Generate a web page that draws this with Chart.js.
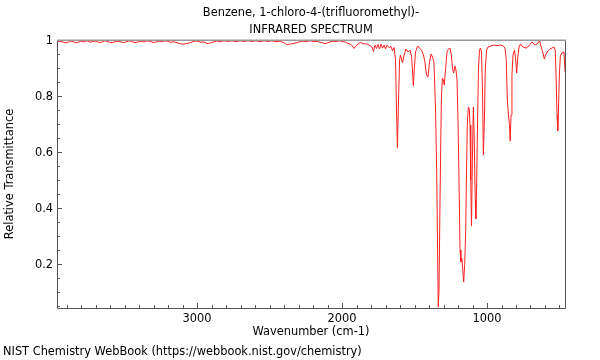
<!DOCTYPE html>
<html>
<head>
<meta charset="utf-8">
<script src="https://cdn.jsdelivr.net/npm/chart.js@4.4.0/dist/chart.umd.min.js"></script>
<style>
  html, body { margin: 0; padding: 0; background: #fff; }
  #wrap { position: relative; width: 600px; height: 360px; }
</style>
</head>
<body>
<div id="wrap"><canvas id="irChart" width="600" height="360"></canvas></div>
<script>
// spectrum, high wavenumber -> low
const wavenumbers = [
  3966, 3948, 3931, 3910, 3890, 3872, 3855, 3838, 3821, 3800, 3779, 3758, 3738, 3717, 3697, 3676,
  3655, 3634, 3614, 3593, 3572, 3552, 3531, 3510, 3490, 3469, 3448, 3428, 3407, 3386, 3366, 3345,
  3324, 3303, 3283, 3262, 3241, 3221, 3200, 3180, 3159, 3131, 3110, 3097, 3080, 3062, 3045, 3028,
  3010, 2993, 2972, 2952, 2938, 2924, 2907, 2890, 2865, 2841, 2814, 2786, 2758, 2731, 2703, 2676,
  2648, 2621, 2593, 2566, 2538, 2510, 2483, 2455, 2431, 2407, 2390, 2379, 2365, 2352, 2338, 2324,
  2310, 2297, 2272, 2248, 2220, 2193, 2172, 2152, 2134, 2117, 2100, 2083, 2062, 2041, 2017, 1993,
  1975, 1959, 1938, 1917, 1897, 1876, 1848, 1828, 1807, 1793, 1783, 1772, 1762, 1752, 1741, 1731,
  1721, 1710, 1700, 1690, 1676, 1662, 1652, 1641, 1631, 1624, 1618, 1612, 1603, 1597, 1583, 1572,
  1559, 1545, 1531, 1521, 1514, 1508, 1502, 1493, 1479, 1466, 1452, 1438, 1428, 1417, 1407, 1397,
  1386, 1376, 1366, 1355, 1347, 1340, 1336, 1331, 1324, 1315, 1308, 1301, 1295, 1286, 1276, 1266,
  1255, 1246, 1238, 1230, 1221, 1214, 1207, 1200, 1193, 1186, 1180, 1174, 1167, 1161, 1154, 1147,
  1141, 1136, 1129, 1122, 1117, 1112, 1107, 1101, 1094, 1088, 1081, 1077, 1072, 1065, 1059, 1052,
  1045, 1038, 1031, 1025, 1018, 1012, 1003, 993, 972, 952, 931, 910, 890, 876, 867, 860,
  852, 845, 840, 834, 828, 821, 810, 802, 795, 788, 779, 769, 752, 731, 710, 690,
  669, 648, 638, 628, 614, 605, 593, 579, 566, 552, 538, 529, 523, 517, 512, 507,
  501, 494, 483, 469, 462
];
const transmittance = [
  .993, .996, .994, .990, .992, .996, .994, .990, .992, .996, .993, .997, .992, .995, .996, .991,
  .993, .997, .994, .990, .993, .996, .994, .991, .993, .997, .994, .991, .993, .996, .993, .997,
  .995, .991, .993, .996, .994, .997, .995, .992, .994, .989, .986, .985, .987, .988, .991, .994,
  .996, .995, .992, .993, .989, .987, .990, .993, .996, .994, .997, .995, .997, .994, .997, .995,
  .997, .995, .997, .994, .997, .995, .997, .994, .995, .992, .987, .983, .985, .986, .987, .989,
  .991, .993, .996, .994, .997, .994, .995, .992, .990, .987, .990, .993, .996, .994, .997, .994,
  .992, .988, .984, .970, .982, .991, .986, .986, .980, .975, .959, .982, .970, .984, .968, .986,
  .971, .982, .968, .982, .973, .977, .961, .973, .929, .750, .614, .750, .929, .946, .918, .946,
  .968, .957, .964, .943, .893, .836, .893, .957, .979, .971, .964, .946, .921, .875, .868, .918,
  .950, .939, .921, .750, .536, .214, .046, .107, .429, .786, .864, .857, .839, .893, .957, .968,
  .971, .946, .900, .882, .907, .893, .861, .714, .500, .250, .207, .221, .179, .136, .196, .321,
  .536, .696, .761, .754, .696, .500, .336, .571, .761, .643, .429, .361, .464, .714, .893, .964,
  .971, .957, .821, .589, .714, .893, .964, .975, .979, .982, .980, .982, .980, .971, .929, .786,
  .732, .696, .639, .732, .875, .946, .964, .929, .882, .936, .975, .986, .975, .971, .979, .993,
  .982, .989, .998, .979, .954, .932, .950, .961, .968, .971, .975, .964, .857, .732, .675, .750,
  .875, .943, .954, .957, .886
];

const xLimits = [462, 3966];
const yLimits = [0.043, 1];
const xMajorTicks = [3000, 2000, 1000];
const yMajorTicks = [0.2, 0.4, 0.6, 0.8, 1];
const xMinorStep = 100;
const yMinorStep = 0.05;

const titleLines = ['Benzene, 1-chloro-4-(trifluoromethyl)-', 'INFRARED SPECTRUM'];
const xTitle = 'Wavenumber (cm-1)';
const yTitle = 'Relative Transmittance';
const creditText = 'NIST Chemistry WebBook (https://webbook.nist.gov/chemistry)';

const FONT = '11.4px "DejaVu Sans", sans-serif';

const points = wavenumbers.map((w, i) => ({ x: w, y: transmittance[i] }));

// frame, inward ticks and all text
const frameAndText = {
  id: 'frameAndText',
  afterDraw(chart) {
    const ctx = chart.ctx;
    const area = chart.chartArea;
    const xs = chart.scales.x;
    const ys = chart.scales.y;
    ctx.save();

    // ticks
    ctx.strokeStyle = '#555';
    ctx.lineWidth = 1;
    ctx.beginPath();
    for (let v = Math.ceil(xLimits[0] / xMinorStep) * xMinorStep; v <= xLimits[1]; v += xMinorStep) {
      const px = Math.round(xs.getPixelForValue(v)) + 0.5;
      const len = (v % 1000 === 0) ? 5 : 3;
      ctx.moveTo(px, area.bottom);
      ctx.lineTo(px, area.bottom - len);
    }
    for (let k = 1; k * yMinorStep <= yLimits[1] + 1e-9; k++) {
      const v = k * yMinorStep;
      if (v < yLimits[0]) continue;
      const py = Math.round(ys.getPixelForValue(v)) + 0.5;
      const len = (k % 4 === 0) ? 5 : 3;
      ctx.moveTo(area.left, py);
      ctx.lineTo(area.left + len, py);
    }
    ctx.stroke();

    // frame
    ctx.beginPath();
    ctx.moveTo(area.left + 0.5, area.top);
    ctx.lineTo(area.left + 0.5, area.bottom + 0.5);
    ctx.lineTo(area.right + 0.5, area.bottom + 0.5);
    ctx.lineTo(area.right + 0.5, area.top);
    ctx.stroke();
    ctx.strokeStyle = '#999';
    ctx.lineWidth = 1.5;
    ctx.beginPath();
    ctx.moveTo(area.left, area.top + 0.25);
    ctx.lineTo(area.right + 1, area.top + 0.25);
    ctx.stroke();

    // tick labels
    ctx.fillStyle = '#000';
    ctx.font = FONT;
    ctx.textAlign = 'center';
    ctx.textBaseline = 'middle';
    xMajorTicks.forEach(v => {
      ctx.fillText(String(v), xs.getPixelForValue(v), area.bottom + 11);
    });
    ctx.textAlign = 'right';
    yMajorTicks.forEach(v => {
      ctx.fillText(String(v), area.left - 4, ys.getPixelForValue(v) + 1);
    });

    // titles
    const midX = (area.left + area.right) / 2;
    ctx.textAlign = 'center';
    ctx.fillText(titleLines[0], midX, 13);
    ctx.fillText(titleLines[1], midX, 30);
    ctx.fillText(xTitle, midX, area.bottom + 24);
    ctx.save();
    ctx.translate(10, (area.top + area.bottom) / 2);
    ctx.rotate(-Math.PI / 2);
    ctx.fillText(yTitle, 0, 0);
    ctx.restore();
    ctx.textAlign = 'left';
    ctx.fillText(creditText, 3, 352);

    ctx.restore();
  }
};

new Chart(document.getElementById('irChart'), {
  type: 'line',
  data: {
    datasets: [{
      data: points,
      borderColor: '#ff2020',
      borderWidth: 1,
      pointRadius: 0,
      tension: 0,
      fill: false
    }]
  },
  options: {
    responsive: false,
    animation: false,
    layout: { padding: { top: 40, right: 35, bottom: 52, left: 57 } },
    scales: {
      x: {
        type: 'linear',
        reverse: true,
        min: xLimits[0],
        max: xLimits[1],
        ticks: { display: false },
        grid: { display: false },
        border: { display: false },
        afterFit: s => { s.height = 0; }
      },
      y: {
        min: yLimits[0],
        max: yLimits[1],
        ticks: { display: false },
        grid: { display: false },
        border: { display: false },
        afterFit: s => { s.width = 0; }
      }
    },
    plugins: {
      legend: { display: false },
      tooltip: { enabled: false }
    }
  },
  plugins: [frameAndText]
});
</script>
</body>
</html>
